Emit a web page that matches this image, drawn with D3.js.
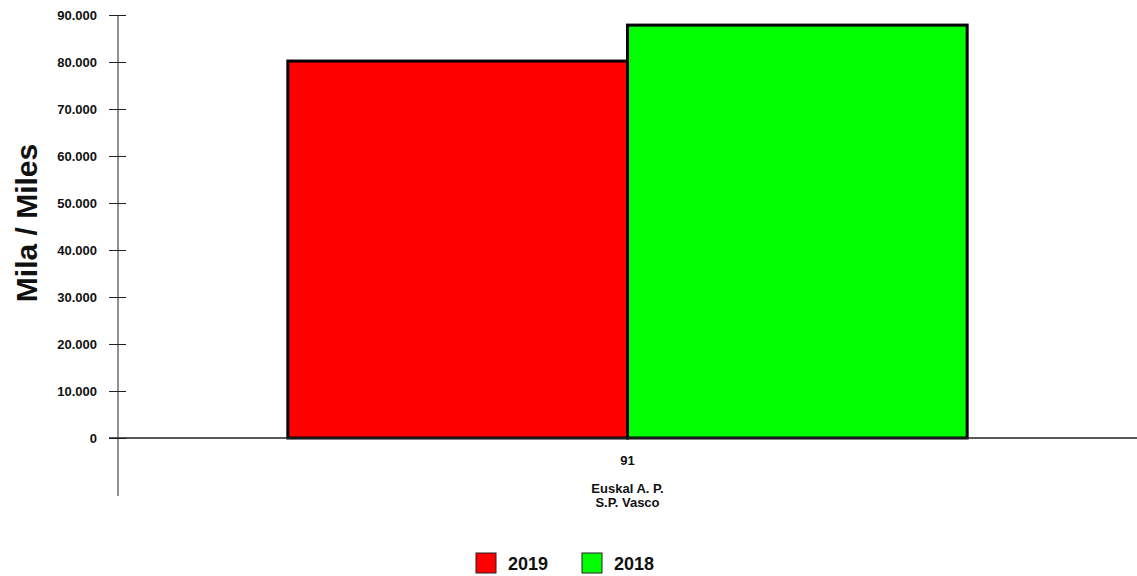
<!DOCTYPE html>
<html>
<head>
<meta charset="utf-8">
<script src="https://cdn.jsdelivr.net/npm/d3@7"></script>
<style>
body { margin: 0; background: #fff; }
text { font-family: "Liberation Sans", Arial, sans-serif; font-weight: bold; fill: #111; }
</style>
</head>
<body>
<script>
// data
var categories = ["91"];
var categoryNames = [["Euskal A. P.", "S.P. Vasco"]];
var seriesNames = ["2019", "2018"];
var seriesColors = ["#ff0000", "#00ff00"];
var values2019 = [80200];
var values2018 = [87850];
var yTicks = [0, 10000, 20000, 30000, 40000, 50000, 60000, 70000, 80000, 90000];

var width = 1137, height = 576;
var margin = {left: 118, right: 0, top: 15, bottom: 138};

var svg = d3.select("body").append("svg")
    .attr("width", width)
    .attr("height", height);

var x = d3.scaleBand()
    .domain(categories)
    .range([margin.left, width - margin.right])
    .paddingInner(0)
    .paddingOuter(0.25);

var xs = d3.scaleBand()
    .domain(seriesNames)
    .range([0, x.bandwidth()]);

var y = d3.scaleLinear()
    .domain([0, 90000])
    .range([height - margin.bottom, margin.top]);

var fmt = function(d){ return d === 0 ? "0" : d3.format(",")(d).replace(/,/g, "."); };

// y axis
var yAxis = svg.append("g")
    .attr("transform", "translate(" + margin.left + ",0)")
    .call(d3.axisLeft(y).tickValues(yTicks).tickFormat(fmt).tickSize(0));
yAxis.select(".domain").remove();
yAxis.selectAll("text").attr("x", -21).attr("dy", "0.35em").style("font-size", "13px");
yAxis.selectAll(".tick").append("line")
    .attr("x1", -9).attr("x2", 8).attr("stroke", "#222");

svg.append("line")
    .attr("x1", margin.left).attr("x2", margin.left)
    .attr("y1", y(90000)).attr("y2", 496)
    .attr("stroke", "#222");

// bars
var series = [values2019, values2018];
categories.forEach(function(c, ci){
    svg.selectAll(null)
        .data(seriesNames)
        .enter().append("rect")
        .attr("x", function(s){ return x(c) + xs(s); })
        .attr("width", xs.bandwidth())
        .attr("y", function(s, si){ return y(series[si][ci]); })
        .attr("height", function(s, si){ return y(0) - y(series[si][ci]); })
        .attr("fill", function(s, si){ return seriesColors[si]; })
        .attr("stroke", "#000")
        .attr("stroke-width", 3);
});

// zero line
svg.append("line")
    .attr("x1", margin.left - 9).attr("x2", width)
    .attr("y1", y(0)).attr("y2", y(0))
    .attr("stroke", "#222").attr("stroke-width", 1.5);

// category labels
categories.forEach(function(c, ci){
    var cx = x(c) + x.bandwidth() / 2;
    svg.append("text").attr("x", cx).attr("y", 465)
        .attr("text-anchor", "middle").style("font-size", "13px").text(c);
    categoryNames[ci].forEach(function(n, ni){
        svg.append("text").attr("x", cx).attr("y", 493 + ni * 14)
            .attr("text-anchor", "middle").style("font-size", "13px").text(n);
    });
});

// y title
svg.append("text")
    .attr("transform", "translate(37,223) rotate(-90)")
    .attr("text-anchor", "middle")
    .style("font-size", "30px")
    .text("Mila / Miles");

// legend
var legendX = [476, 582];
var lg = svg.selectAll(".lg").data(seriesNames).enter().append("g")
    .attr("transform", function(d, i){ return "translate(" + legendX[i] + ",553)"; });
lg.append("rect").attr("width", 20).attr("height", 20)
    .attr("fill", function(d, i){ return seriesColors[i]; })
    .attr("stroke", "#222").attr("stroke-width", 1);
lg.append("text").attr("x", 32).attr("y", 17)
    .style("font-size", "18px").text(function(d){ return d; });
</script>
</body>
</html>
